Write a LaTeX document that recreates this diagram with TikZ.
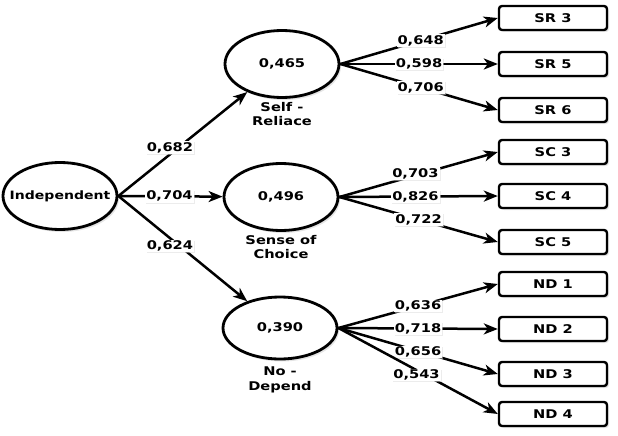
\documentclass[tikz,border=0pt]{standalone}
\usepackage{fontspec}
\newfontfamily\lblfont[FakeStretch=1.22]{DejaVu Sans}
\usetikzlibrary{shapes.geometric,arrows.meta,shadows}
\begin{document}
\begin{tikzpicture}[x=1pt,y=-1pt,
  font=\lblfont\bfseries\fontsize{12}{14}\selectfont,
  latent/.style={ellipse,draw,line width=2.8pt,fill=white,minimum width=114pt,minimum height=67pt,inner sep=0pt,
    drop shadow={shadow xshift=2pt,shadow yshift=-2.5pt,fill=gray!40}},
  indic/.style={rectangle,rounded corners=3pt,draw,line width=2.4pt,fill=white,minimum width=108pt,minimum height=24pt,inner sep=0pt,
    drop shadow={shadow xshift=2pt,shadow yshift=-2pt,fill=gray!40}},
  conn/.style={line width=2.5pt,-{Stealth[length=14pt,width=11pt,inset=4pt]}},
  coef/.style={fill=white,inner sep=1pt,drop shadow={shadow xshift=1pt,shadow yshift=-1pt,fill=gray!30}},
  capt/.style={align=center}
]
\useasboundingbox (0,0) rectangle (618,436);

% latent variables
\node[latent] (indep) at (60,196) {};
\node[font=\lblfont\bfseries\fontsize{11.5}{14}\selectfont] (indeptext) at (indep.center) {Independent};
\node[latent] (sr) at (282,64) {0,465};
\node[latent] (sc) at (281,197) {0,496};
\node[latent,minimum height=62pt] (nd) at (280,328) {0,390};

\node[capt] (srcap) at (282,114.5) {Self -\\Reliace};
\node[capt] (sccap) at (281,247) {Sense of\\Choice};
\node[capt] (ndcap) at (280,380) {No -\\[1pt]Depend};

% indicators
\node[indic] (sr3) at (553,18) {SR 3};
\node[indic] (sr5) at (553,64) {SR 5};
\node[indic] (sr6) at (553,110) {SR 6};
\node[indic] (sc3) at (553,152) {SC 3};
\node[indic] (sc4) at (553,196) {SC 4};
\node[indic] (sc5) at (553,242) {SC 5};
\node[indic] (nd1) at (553,284) {ND 1};
\node[indic] (nd2) at (553,329) {ND 2};
\node[indic] (nd3) at (553,374) {ND 3};
\node[indic] (nd4) at (553,414) {ND 4};

% structural paths
\draw[conn] (indep.east) -- (sr) node[coef,pos=0.4,yshift=7pt] {0,682};
\draw[conn] (indep.east) -- (sc) node[coef,pos=0.49] {0,704};
\draw[conn] (indep.east) -- (nd) node[coef,pos=0.4,yshift=-8pt] {0,624};

% loadings
\draw[conn] (sr.east) -- (sr3.west) node[coef,pos=0.51] {0,648};
\draw[conn] (sr.east) -- (sr5.west) node[coef,pos=0.5] {0,598};
\draw[conn] (sr.east) -- (sr6.west) node[coef,pos=0.51] {0,706};

\draw[conn] (sc.east) -- (sc3.west) node[coef,pos=0.48,yshift=2pt] {0,703};
\draw[conn] (sc.east) -- (sc4.west) node[coef,pos=0.48] {0,826};
\draw[conn] (sc.east) -- (sc5.west) node[coef,pos=0.5] {0,722};

\draw[conn] (nd.east) -- (nd1.west) node[coef,pos=0.5] {0,636};
\draw[conn] (nd.east) -- (nd2.west) node[coef,pos=0.5] {0,718};
\draw[conn] (nd.east) -- (nd3.west) node[coef,pos=0.5,yshift=-1pt] {0,656};
\draw[conn] (nd.east) -- (nd4.west) node[coef,pos=0.49,yshift=-5pt] {0,543};
\end{tikzpicture}
\end{document}
